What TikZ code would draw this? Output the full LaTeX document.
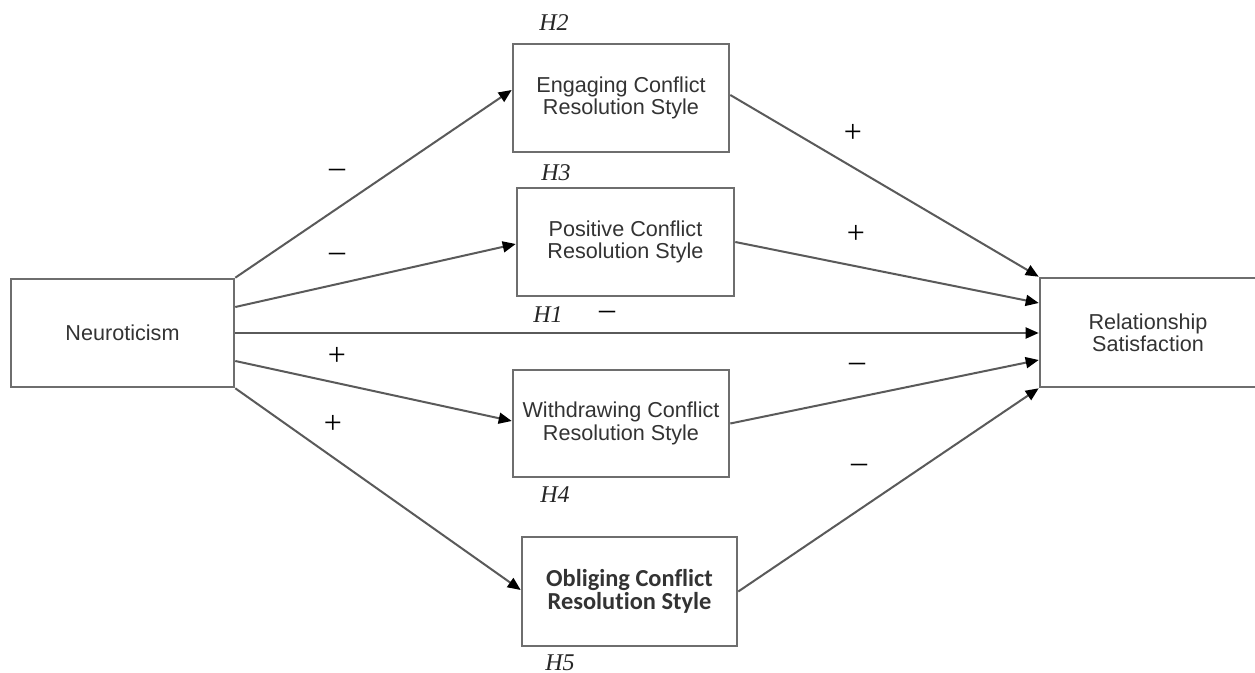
\documentclass[tikz,border=0pt]{standalone}
\usepackage{fontspec}
\setmainfont{Liberation Serif}
\newfontfamily\arialf{Liberation Sans}
\newfontfamily\calibrif[Ligatures={NoCommon,NoDiscretionary}]{Carlito}
\usetikzlibrary{arrows.meta}
\definecolor{linegray}{HTML}{5A5A5A}
\definecolor{boxgray}{HTML}{6E6E6E}
\definecolor{txtgray}{HTML}{333333}
\tikzset{
  varbox/.style={draw=boxgray, line width=1.3pt, fill=white, align=center, inner sep=0pt,
    text=txtgray, font=\arialf\fontsize{10.8}{11.2}\selectfont},
  link/.style={draw=linegray, line width=1pt, -{Triangle[length=6.5pt,width=5.5pt,color=black]}},
  sign/.style={font=\fontsize{16}{16}\selectfont, inner sep=0pt, text=black},
  hyp/.style={font=\itshape\fontsize{12}{12}\selectfont, inner sep=0pt, text=black!85}
}
\begin{document}
\begin{tikzpicture}[x=0.5pt, y=-0.5pt]
\clip (0,0) rectangle (1255,673);
\fill[white] (0,0) rectangle (1255,673);

\node[varbox, minimum width=111.5pt, minimum height=54pt] (neu) at (122.5,333) {Neuroticism};
\node[varbox, minimum width=108pt, minimum height=54pt] (eng) at (621,98) {Engaging Conflict\\Resolution Style};
\node[varbox, minimum width=108.5pt, minimum height=54pt] (pos) at (625.5,242) {Positive Conflict\\Resolution Style};
\node[varbox, minimum width=108pt, minimum height=53.5pt] (wit) at (621,423.5) {Withdrawing Conflict\\Resolution Style};
\node[varbox, minimum width=107.5pt, minimum height=54.5pt, font=\calibrif\bfseries\fontsize{12.2}{11.2}\selectfont] (obl) at (629.5,591.5) {Obliging Conflict\\Resolution Style};
\node[varbox, minimum width=108pt, minimum height=54.5pt] (rs) at (1148,332.5) {Relationship\\Satisfaction};

% left arrows
\draw[link] (neu.north east) -- ([yshift=4pt]eng.west);
\draw[link] ([yshift=13pt]neu.east) -- ([yshift=-1pt]pos.west);
\draw[link] (neu.east) -- (neu.east -| rs.west);
\draw[link] ([yshift=-14pt]neu.east) -- ([yshift=1.25pt]wit.west);
\draw[link] (neu.south east) -- ([yshift=0.75pt]obl.west);
% right arrows
\draw[link] ([yshift=1.5pt]eng.east) -- (rs.north west);
\draw[link] (pos.east) -- ([yshift=14.75pt]rs.west);
\draw[link] (wit.east) -- ([yshift=-13.75pt]rs.west);
\draw[link] (obl.east) -- (rs.south west);

% signs
\node[sign] (s1) at (337,173) {–};
\node[sign] (s2) at (337,257) {–};
\node[sign] (s3) at (337,356) {+};
\node[sign] (s4) at (333,424) {+};
\node[sign] (s5) at (853,133) {+};
\node[sign] (s6) at (856,234) {+};
\node[sign] (s7) at (607,315) {–};
\node[sign] (s8) at (857,367) {–};
\node[sign] (s9) at (859,468) {–};

% hypotheses
\node[hyp] (h2) at (554,23) {H2};
\node[hyp] (h3) at (556,173) {H3};
\node[hyp] (h1) at (548,315) {H1};
\node[hyp] (h4) at (555,495) {H4};
\node[hyp] (h5) at (560,663) {H5};
\end{tikzpicture}
\end{document}
